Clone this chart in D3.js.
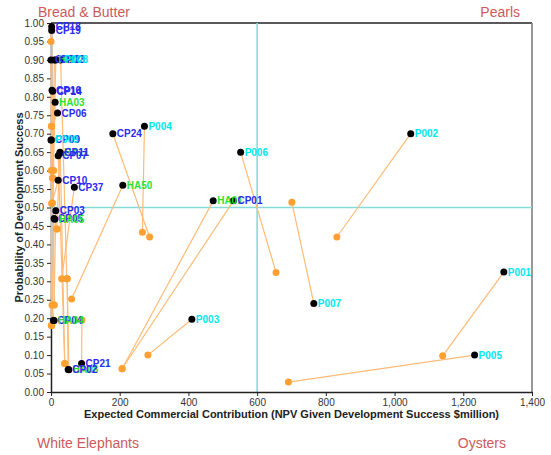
<!DOCTYPE html>
<html><head><meta charset="utf-8">
<script src="https://cdn.jsdelivr.net/npm/d3@7"></script>
<style>body{margin:0;background:#fff}svg{display:block}</style>
</head><body>
<script>
// ---- data ----
const names  = ["CP18","CP19","CP12","HA02","CP13","P008","CP16","CP14","HA03","CP06","CP09","P009","HA11","CP11","CP07","CP10","CP37","CP03","CP05","HA05","CP04","HA04","HA08","CP02","CP21","CP24","P004","HA50","HA01","CP01","P006","P002","P007","P003","P001","P005"];
const groups = ["CP","CP","CP","HA","CP","P","CP","CP","HA","CP","CP","P","HA","CP","CP","CP","CP","CP","CP","HA","CP","HA","HA","CP","CP","CP","P","HA","HA","CP","P","P","P","P","P","P"];
const npvNow  = [2,2,0,10,14,28,3,5,12,19,0,1,26,27,21,21,68,14,9,11,7,9,52,50,89,180,272,209,472,531,552,1047,765,410,1318,1233];
const probNow = [0.99,0.98,0.90,0.90,0.90,0.90,0.818,0.815,0.785,0.756,0.683,0.683,0.65,0.648,0.64,0.574,0.555,0.491,0.47,0.468,0.194,0.194,0.06,0.061,0.077,0.70,0.72,0.56,0.518,0.518,0.65,0.70,0.24,0.197,0.325,0.10];
const npvPrev  = [0,1,1,2,6,46,8,9,4,2,1,4,17,40,40,3,31,9,2,17,2,3,47,47,90,287,266,60,207,207,655,832,701,282,1140,691];
const probPrev = [0.95,0.18,0.72,0.51,0.58,0.307,0.60,0.236,0.512,0.72,0.60,0.58,0.442,0.077,0.077,0.512,0.307,0.236,0.18,0.442,0.18,0.236,0.307,0.307,0.195,0.42,0.433,0.252,0.063,0.063,0.324,0.42,0.514,0.10,0.098,0.027];
const xTicks = [0,200,400,600,800,1000,1200,1400];
const yTicks = d3.range(0,21).map(i=>i*0.05);
const quadrants = ["Bread & Butter","Pearls","White Elephants","Oysters"];
const xTitle = "Expected Commercial Contribution (NPV Given Development Success $million)";
const yTitle = "Probability of Development Success";

const W=551,H=455;
const m={l:51,r:532,t:23,b:392};
const svg=d3.select("body").append("svg").attr("width",W).attr("height",H);
const x=d3.scaleLinear().domain([0,1400]).range([m.l,m.r]);
const y=d3.scaleLinear().domain([0,1]).range([m.b,m.t]);
const groupColor={CP:"#2a2af0",HA:"#2ee02e",P:"#00e8f0"};

// frame top & right
svg.append("line").attr("x1",m.l).attr("x2",m.r).attr("y1",m.t).attr("y2",m.t).attr("stroke","#222").attr("stroke-width",1.5);
svg.append("line").attr("x1",m.r).attr("x2",m.r).attr("y1",m.t).attr("y2",m.b).attr("stroke","#777").attr("stroke-width",1.5);

// crosshair
svg.append("line").attr("x1",x(600)).attr("x2",x(600)).attr("y1",m.t).attr("y2",m.b).attr("stroke","#86dada").attr("stroke-width",1.6);
svg.append("line").attr("x1",m.l).attr("x2",m.r).attr("y1",y(0.5)).attr("y2",y(0.5)).attr("stroke","#86dada").attr("stroke-width",1.6);

// axes
const fs="Liberation Sans, Arial, sans-serif";
const xa=svg.append("g").attr("transform",`translate(0,${m.b})`)
 .call(d3.axisBottom(x).tickValues(xTicks).tickFormat(d3.format(",")).tickSize(4).tickSizeOuter(0));
const ya=svg.append("g").attr("transform",`translate(${m.l},0)`)
 .call(d3.axisLeft(y).tickValues(yTicks).tickFormat(d3.format(".2f")).tickSize(4).tickSizeOuter(0));
[xa,ya].forEach(a=>{a.selectAll("text").attr("font-family",fs).attr("font-size",10).attr("fill","#333");
 a.select(".domain").attr("stroke","#222").attr("stroke-width",1.5); a.selectAll(".tick line").attr("stroke","#222");});

svg.append("text").attr("x",(m.l+m.r)/2).attr("y",418).attr("text-anchor","middle")
 .attr("font-family",fs).attr("font-size",11).attr("font-weight","bold").attr("fill","#222").text(xTitle);
svg.append("text").attr("transform",`translate(23,${(m.t+m.b)/2}) rotate(-90)`).attr("text-anchor","middle")
 .attr("font-family",fs).attr("font-size",11).attr("font-weight","bold").attr("fill","#222").text(yTitle);

// quadrant labels
const qc="#cc5a5a";
const qpos=[[38,17,"start"],[520,17,"end"],[37,448,"start"],[506,448,"end"]];
quadrants.forEach((t,i)=>svg.append("text").attr("x",qpos[i][0]).attr("y",qpos[i][1]).attr("text-anchor",qpos[i][2])
 .attr("font-family",fs).attr("font-size",14).attr("fill",qc).text(t));

const idx=d3.range(names.length);
svg.append("g").selectAll("line").data(idx).join("line")
 .attr("x1",i=>x(npvNow[i])).attr("y1",i=>y(probNow[i])).attr("x2",i=>x(npvPrev[i])).attr("y2",i=>y(probPrev[i]))
 .attr("stroke","#ffbb77").attr("stroke-width",1.2);
svg.append("g").selectAll("circle").data(idx).join("circle")
 .attr("cx",i=>x(npvPrev[i])).attr("cy",i=>y(probPrev[i])).attr("r",3.5).attr("fill","#ffa030");
svg.append("g").selectAll("circle").data(idx).join("circle")
 .attr("cx",i=>x(npvNow[i])).attr("cy",i=>y(probNow[i])).attr("r",3.5).attr("fill","#000");
svg.append("g").selectAll("text").data(idx).join("text")
 .attr("x",i=>x(npvNow[i])+4).attr("y",i=>y(probNow[i])).attr("dy","0.35em")
 .attr("font-family",fs).attr("font-size",10).attr("font-weight","bold").attr("fill",i=>groupColor[groups[i]]).text(i=>names[i]);
</script>
</body></html>
